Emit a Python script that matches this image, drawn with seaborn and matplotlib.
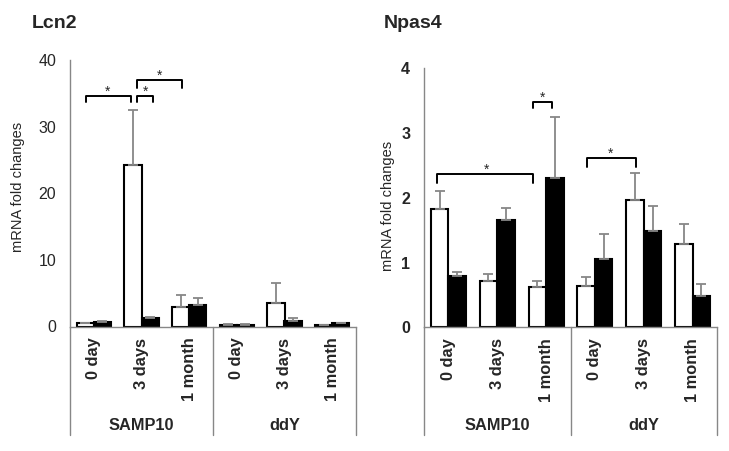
import pandas as pd
import seaborn as sns
import matplotlib.pyplot as plt

# data
strains = ["SAMP10", "ddY"]
times = ["0 day", "3 days", "1 month"]
treatments = ["white", "black"]

lcn2_white = [0.5, 24.2, 3.0, 0.3, 3.5, 0.2]
lcn2_white_err = [0.1, 8.3, 1.7, 0.05, 3.1, 0.05]
lcn2_black = [0.7, 1.3, 3.3, 0.3, 0.9, 0.5]
lcn2_black_err = [0.15, 0.1, 1.0, 0.05, 0.4, 0.1]

npas4_white = [1.82, 0.72, 0.62, 0.64, 1.97, 1.28]
npas4_white_err = [0.29, 0.10, 0.10, 0.13, 0.42, 0.32]
npas4_black = [0.79, 1.65, 2.31, 1.06, 1.48, 0.48]
npas4_black_err = [0.06, 0.19, 0.94, 0.38, 0.40, 0.19]

# significance brackets: (x start, x end, y, drop, star x)
lcn2_brackets = [(-0.16, 0.77, 34.6, 0.95, 0.29),
                 (0.91, 1.24, 34.6, 0.95, 1.09),
                 (0.91, 1.84, 37.0, 1.15, 1.37)]
npas4_brackets = [(-0.24, 1.73, 2.37, 0.14, 0.79),
                  (1.73, 2.12, 3.48, 0.10, 1.93),
                  (2.84, 3.84, 2.62, 0.14, 3.31)]

GRAY = "#878787"


def MakeFrame(white, black):

    """Long table with one row per bar."""

    conds = [f"{s}|{t}" for s in strains for t in times]
    rows = []
    for trt, vals in zip(treatments, [white, black]):
        for c, v in zip(conds, vals):
            rows.append({"cond": c, "treatment": trt, "value": v})
    return pd.DataFrame(rows), conds


def DrawPanel(ax, white, black, white_err, black_err, brackets, ymax, bold_ticks):

    df, conds = MakeFrame(white, black)
    sns.barplot(data=df, x="cond", y="value", hue="treatment", order=conds,
                hue_order=treatments, palette={"white": "white", "black": "black"},
                edgecolor="black", linewidth=1.5, width=0.72, errorbar=None,
                legend=False, ax=ax)

    # upper-only error bars at the bar centres
    for cont, errs in zip(ax.containers, [white_err, black_err]):
        for bar, e in zip(cont, errs):
            xc = bar.get_x() + bar.get_width() / 2
            ax.errorbar(xc, bar.get_height(), yerr=[[0], [e]], fmt="none",
                        ecolor=GRAY, elinewidth=1.3, capsize=3.5, capthick=1.3,
                        zorder=1)

    for x0, x1, y, d, xs in brackets:
        ax.plot([x0, x0, x1, x1], [y - d, y, y, y - d], color="black", lw=1.4,
                clip_on=False)
        ax.text(xs, y, "*", ha="center", va="baseline", fontsize=10)

    ax.set_ylim(0, ymax)
    ax.set_xlim(-0.5, 5.5)
    ax.set_xlabel("")
    ax.set_ylabel("")
    sns.despine(ax=ax, top=True, right=True)
    for sp in ["left", "bottom"]:
        ax.spines[sp].set_color(GRAY)
        ax.spines[sp].set_linewidth(1.0)

    ax.tick_params(axis="y", direction="out", length=4, width=1, color=GRAY,
                   labelsize=11.5, pad=6)
    if bold_ticks:
        for lab in ax.get_yticklabels():
            lab.set_fontweight("bold")

    ax.set_xticks(range(6))
    ax.set_xticklabels(times * 2, rotation=90, fontweight="bold", fontsize=11.8)
    ax.tick_params(axis="x", length=0, pad=8)

    # multi-level category axis below the plot
    h_px = ax.get_position().height * fig.get_figheight() * fig.dpi
    low = -108 / h_px
    trans = ax.get_xaxis_transform()
    for xv in [-0.5, 2.5, 5.5]:
        ax.plot([xv, xv], [0, low], color=GRAY, lw=1.0, transform=trans,
                clip_on=False)
    for i, s in enumerate(strains):
        ax.text(i * 3 + 1, -98.5 / h_px, s, transform=trans, ha="center",
                va="center", fontweight="bold", fontsize=11.8)


sns.set_style("white")
plt.rcParams["font.family"] = ["Liberation Sans", "DejaVu Sans"]

fig = plt.figure(figsize=(7.29, 4.51), dpi=100)
W, H = 729, 451
ax1 = fig.add_axes([70 / W, 1 - 326.5 / H, 286 / W, 266.5 / H])
ax2 = fig.add_axes([424 / W, 1 - 327.3 / H, 293 / W, 259 / H])

DrawPanel(ax1, lcn2_white, lcn2_black, lcn2_white_err, lcn2_black_err,
          lcn2_brackets, 40, False)
ax1.set_yticks([0, 10, 20, 30, 40])
DrawPanel(ax2, npas4_white, npas4_black, npas4_white_err, npas4_black_err,
          npas4_brackets, 4, True)
ax2.set_yticks([0, 1, 2, 3, 4])
for lab in ax2.get_yticklabels():
    lab.set_fontweight("bold")

fig.text(18 / W, 1 - 186.5 / H, "mRNA fold changes", rotation=90,
         ha="center", va="center", fontsize=10.5)
fig.text(388 / W, 1 - 206 / H, "mRNA fold changes", rotation=90,
         ha="center", va="center", fontsize=10.5)
fig.text(32 / W, 1 - 28 / H, "Lcn2", fontsize=14, fontweight="bold",
         va="baseline")
fig.text(384 / W, 1 - 28 / H, "Npas4", fontsize=14, fontweight="bold",
         va="baseline")

fig.savefig("out.png", dpi=100)
